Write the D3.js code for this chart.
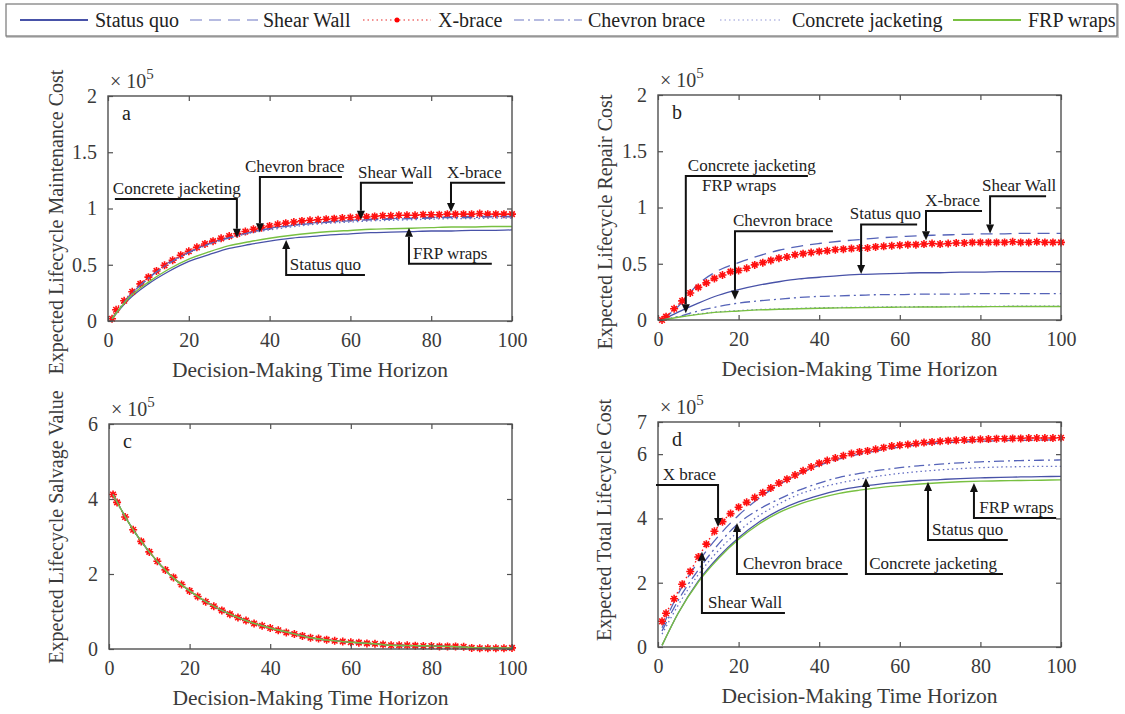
<!DOCTYPE html>
<html>
<head>
<meta charset="utf-8">
<script src="https://cdn.jsdelivr.net/npm/d3@7"></script>
<style>
  body { margin: 0; background: #fff; }
  svg { display: block; }
  text { font-family: "Liberation Serif", "Times New Roman", serif; }
</style>
</head>
<body>
<div id="chart"></div>
<script>
// ---- data (values in units of 10^5) ----
const seriesNames = ['Status quo', 'Shear Wall', 'X-brace', 'Chevron brace', 'Concrete jacketing', 'FRP wraps'];

// X-brace is plotted with markers on a finer grid
const yearsFine = [1, 2, 4, 6, 8, 10, 12, 14, 16, 18, 20, 22, 24, 26, 28, 30, 32, 34, 36, 38, 40,
  42, 44, 46, 48, 50, 52, 54, 56, 58, 60, 62, 64, 66, 68, 70, 72, 74, 76, 78, 80,
  82, 84, 86, 88, 90, 92, 94, 96, 98, 100];
const yearsCoarse = [1, 5, 10, 15, 20, 25, 30, 35, 40, 45, 50, 55, 60, 65, 70, 75, 80, 85, 90, 95, 100];

const xTicks = [0, 20, 40, 60, 80, 100];

// (a) maintenance
const maintXbrace = [0.02, 0.10, 0.18, 0.26, 0.33, 0.39, 0.445, 0.495, 0.54, 0.585, 0.62,
  0.655, 0.685, 0.71, 0.735, 0.755, 0.775, 0.795, 0.815, 0.83, 0.845,
  0.86, 0.87, 0.88, 0.89, 0.895, 0.90, 0.905, 0.91, 0.915, 0.92,
  0.925, 0.925, 0.93, 0.935, 0.935, 0.94, 0.94, 0.94, 0.945, 0.945,
  0.945, 0.95, 0.95, 0.95, 0.95, 0.955, 0.95, 0.95, 0.95, 0.95];
const maintStatusQuo = [0.02, 0.187, 0.33, 0.44, 0.53, 0.59, 0.645, 0.68, 0.71, 0.735, 0.75, 0.765, 0.775, 0.785, 0.79, 0.795, 0.80, 0.80, 0.805, 0.805, 0.81];
const maintShearWall = [0.02, 0.21, 0.38, 0.52, 0.61, 0.69, 0.745, 0.79, 0.825, 0.85, 0.87, 0.885, 0.895, 0.905, 0.91, 0.915, 0.92, 0.925, 0.93, 0.93, 0.93];
const maintChevron = [0.02, 0.21, 0.38, 0.51, 0.61, 0.685, 0.74, 0.785, 0.82, 0.845, 0.865, 0.88, 0.89, 0.90, 0.905, 0.91, 0.915, 0.92, 0.92, 0.925, 0.925];
const maintConcrete = [0.02, 0.21, 0.375, 0.51, 0.605, 0.68, 0.735, 0.78, 0.81, 0.835, 0.855, 0.87, 0.88, 0.89, 0.895, 0.90, 0.905, 0.91, 0.91, 0.915, 0.915];
const maintFrp = [0.02, 0.20, 0.345, 0.46, 0.55, 0.615, 0.67, 0.705, 0.735, 0.76, 0.78, 0.795, 0.805, 0.815, 0.82, 0.825, 0.83, 0.835, 0.835, 0.84, 0.84];

// (b) repair
const repairXbrace = [0.0, 0.03, 0.10, 0.17, 0.24, 0.29, 0.33, 0.37, 0.40, 0.43, 0.44,
  0.46, 0.49, 0.51, 0.53, 0.55, 0.56, 0.58, 0.59, 0.60, 0.61,
  0.615, 0.625, 0.63, 0.635, 0.64, 0.64, 0.65, 0.655, 0.66, 0.665,
  0.67, 0.67, 0.675, 0.68, 0.675, 0.68, 0.685, 0.685, 0.69, 0.69,
  0.69, 0.69, 0.69, 0.695, 0.69, 0.69, 0.695, 0.69, 0.69, 0.69];
const repairStatusQuo = [0.0, 0.07, 0.15, 0.22, 0.27, 0.31, 0.34, 0.365, 0.38, 0.395, 0.405, 0.41, 0.415, 0.42, 0.42, 0.425, 0.425, 0.43, 0.43, 0.43, 0.43];
const repairShearWall = [0.0, 0.12, 0.32, 0.44, 0.51, 0.57, 0.62, 0.655, 0.68, 0.70, 0.715, 0.73, 0.74, 0.75, 0.755, 0.76, 0.765, 0.765, 0.77, 0.77, 0.77];
const repairChevron = [0.0, 0.03, 0.08, 0.12, 0.15, 0.17, 0.185, 0.20, 0.21, 0.215, 0.22, 0.225, 0.225, 0.23, 0.23, 0.23, 0.235, 0.235, 0.235, 0.235, 0.235];
const repairConcrete = [0.0, 0.027, 0.053, 0.073, 0.083, 0.093, 0.098, 0.103, 0.108, 0.111, 0.113, 0.115, 0.117, 0.118, 0.119, 0.12, 0.121, 0.122, 0.123, 0.123, 0.123];
const repairFrp = [0.0, 0.025, 0.05, 0.07, 0.08, 0.09, 0.095, 0.10, 0.105, 0.108, 0.11, 0.112, 0.114, 0.115, 0.116, 0.117, 0.118, 0.119, 0.12, 0.12, 0.12];

// (c) salvage (all alternatives nearly identical)
const salvageXbrace = [4.12, 3.91, 3.52, 3.18, 2.87, 2.59, 2.34, 2.11, 1.91, 1.72, 1.55,
  1.40, 1.26, 1.14, 1.03, 0.93, 0.84, 0.76, 0.68, 0.62, 0.56,
  0.50, 0.44, 0.40, 0.35, 0.30, 0.28, 0.25, 0.22, 0.20, 0.18,
  0.17, 0.15, 0.14, 0.12, 0.10, 0.10, 0.10, 0.09, 0.08, 0.08,
  0.07, 0.07, 0.07, 0.06, 0.03, 0.02, 0.02, 0.02, 0.02, 0.03];
const salvageOthers = [4.12, 3.35, 2.59, 1.99, 1.55, 1.20, 0.93, 0.72, 0.56, 0.43, 0.30, 0.23, 0.18, 0.145, 0.10, 0.09, 0.08, 0.065, 0.04, 0.025, 0.025];

// (d) total
const totalXbrace = [0.80, 1.05, 1.50, 1.95, 2.35, 2.80, 3.20, 3.60, 3.90, 4.15, 4.35,
  4.50, 4.65, 4.80, 4.95, 5.10, 5.22, 5.35, 5.48, 5.60, 5.72,
  5.80, 5.88, 5.95, 6.02, 6.07, 6.10, 6.15, 6.20, 6.25, 6.28,
  6.30, 6.33, 6.36, 6.38, 6.40, 6.42, 6.43, 6.44, 6.45, 6.46,
  6.47, 6.48, 6.48, 6.49, 6.49, 6.50, 6.50, 6.50, 6.50, 6.51];
const totalStatusQuo = [0.05, 1.05, 2.05, 2.80, 3.40, 3.88, 4.25, 4.52, 4.72, 4.88, 4.99, 5.07, 5.13, 5.18, 5.21, 5.24, 5.26, 5.28, 5.29, 5.30, 5.31];
const totalShearWall = [0.60, 1.65, 2.65, 3.45, 4.10, 4.62, 5.05, 5.38, 5.65, 5.85, 6.00, 6.12, 6.22, 6.30, 6.35, 6.38, 6.40, 6.42, 6.43, 6.44, 6.45];
const totalChevron = [0.50, 1.45, 2.40, 3.20, 3.85, 4.28, 4.60, 4.88, 5.10, 5.28, 5.40, 5.50, 5.58, 5.64, 5.69, 5.73, 5.76, 5.78, 5.80, 5.81, 5.82];
const totalConcrete = [0.40, 1.30, 2.25, 3.00, 3.60, 4.08, 4.45, 4.75, 4.95, 5.10, 5.22, 5.32, 5.40, 5.46, 5.51, 5.55, 5.58, 5.60, 5.61, 5.62, 5.62];
const totalFrp = [0.05, 1.05, 2.02, 2.75, 3.35, 3.82, 4.18, 4.44, 4.63, 4.78, 4.88, 4.96, 5.02, 5.07, 5.11, 5.14, 5.16, 5.17, 5.18, 5.19, 5.20];

// ---- styles ----
const styles = {
  'Status quo':         { color: '#4852a8', legend: '#4852a8', dash: null, width: 1.3 },
  'Shear Wall':         { color: '#5563b8', legend: '#9fa5d8', dash: '12,7', width: 1.3 },
  'X-brace':            { color: '#ff1a1a', legend: '#f07070', dash: '1.5,3', width: 1.4, marker: true },
  'Chevron brace':      { color: '#5563b8', legend: '#9fa5d8', dash: '10,4,2,4', width: 1.3 },
  'Concrete jacketing': { color: '#6670c4', legend: '#b7bbe4', dash: '1.5,3', width: 1.3 },
  'FRP wraps':          { color: '#78c041', legend: '#78c041', dash: null, width: 1.4 }
};

const panels = [
  { letter: 'a', x0: 108, x1: 512, y0: 321, y1: 96, yMax: 2, yTicks: [0, 0.5, 1, 1.5, 2],
    yLabel: 'Expected Lifecycle Maintenance Cost', yLabelX: 63, yLabelY: 222,
    data: { 'Status quo': maintStatusQuo, 'Shear Wall': maintShearWall, 'X-brace': maintXbrace,
            'Chevron brace': maintChevron, 'Concrete jacketing': maintConcrete, 'FRP wraps': maintFrp },
    notes: [
      { label: 'Concrete jacketing', tipX: 31.9, tipY: 0.74, elbowY: 1.085, endX: 1.7, textX: 1.2 },
      { label: 'Chevron brace', tipX: 37.6, tipY: 0.79, elbowY: 1.28, endX: 57.9, textX: 33.9 },
      { label: 'Shear Wall', tipX: 62.6, tipY: 0.90, elbowY: 1.23, endX: 75.5, textX: 61.9 },
      { label: 'X-brace', tipX: 84.9, tipY: 0.97, elbowY: 1.23, endX: 98.3, textX: 83.9 },
      { label: 'Status quo', tipX: 44.1, tipY: 0.72, elbowY: 0.41, endX: 63.6, textX: 45 },
      { label: 'FRP wraps', tipX: 74.5, tipY: 0.83, elbowY: 0.51, endX: 95, textX: 75.5 }
    ] },
  { letter: 'b', x0: 658, x1: 1061, y0: 320, y1: 95, yMax: 2, yTicks: [0, 0.5, 1, 1.5, 2],
    yLabel: 'Expected Lifecycle Repair Cost', yLabelX: 612, yLabelY: 222,
    data: { 'Status quo': repairStatusQuo, 'Shear Wall': repairShearWall, 'X-brace': repairXbrace,
            'Chevron brace': repairChevron, 'Concrete jacketing': repairConcrete, 'FRP wraps': repairFrp },
    notes: [
      { label: 'Concrete jacketing', tipX: 6.9, tipY: 0.06, elbowY: 1.28, endX: 37.2, textX: 7.4,
        sub: 'FRP wraps', subX: 10.9 },
      { label: 'Chevron brace', tipX: 19.1, tipY: 0.18, elbowY: 0.79, endX: 43.4, textX: 18.6 },
      { label: 'Status quo', tipX: 50.4, tipY: 0.41, elbowY: 0.85, endX: 64.3, textX: 47.6 },
      { label: 'X-brace', tipX: 66.5, tipY: 0.71, elbowY: 0.97, endX: 80.4, textX: 66.3 },
      { label: 'Shear Wall', tipX: 82.4, tipY: 0.77, elbowY: 1.10, endX: 96.3, textX: 80.4 }
    ] },
  { letter: 'c', x0: 109, x1: 512, y0: 649, y1: 424, yMax: 6, yTicks: [0, 2, 4, 6],
    yLabel: 'Expected Lifecycle Salvage Value', yLabelX: 63, yLabelY: 527,
    data: { 'Status quo': salvageOthers, 'Shear Wall': salvageOthers, 'X-brace': salvageXbrace,
            'Chevron brace': salvageOthers, 'Concrete jacketing': salvageOthers, 'FRP wraps': salvageOthers },
    notes: [] },
  { letter: 'd', x0: 658, x1: 1061, y0: 647, y1: 422, yMax: 7, yTicks: [0, 2, 4, 6, 7],
    yLabel: 'Expected Total Lifecycle Cost', yLabelX: 611, yLabelY: 520,
    data: { 'Status quo': totalStatusQuo, 'Shear Wall': totalShearWall, 'X-brace': totalXbrace,
            'Chevron brace': totalChevron, 'Concrete jacketing': totalConcrete, 'FRP wraps': totalFrp },
    notes: [
      { label: 'X brace', tipX: 14.9, tipY: 3.73, elbowY: 5.04, endX: -0.5, textX: 1.2 },
      { label: 'Shear Wall', tipX: 10.9, tipY: 2.96, elbowY: 1.06, endX: 31.5, textX: 12.4 },
      { label: 'Chevron brace', tipX: 19.6, tipY: 3.86, elbowY: 2.27, endX: 47.1, textX: 21.1 },
      { label: 'Concrete jacketing', tipX: 51.6, tipY: 5.26, elbowY: 2.27, endX: 85.6, textX: 52.4 },
      { label: 'Status quo', tipX: 67, tipY: 5.13, elbowY: 3.33, endX: 86.8, textX: 68 },
      { label: 'FRP wraps', tipX: 78.4, tipY: 5.10, elbowY: 4.01, endX: 98.8, textX: 79.7 }
    ] }
];

let width = 1125;
let height = 714;
let axisColor = '#505050';
let textColor = '#3a3a3a';

let svg = d3.select('#chart').append('svg')
  .attr('width', width)
  .attr('height', height);

// ---- legend ----
let legendSampleX = [20, 190, 363, 514, 720, 953];
let legendTextX = [95, 263, 438, 588, 792, 1028];
let legendG = svg.append('g').classed('legend', true);
legendG.append('rect')
  .attr('x', 7).attr('y', 5).attr('width', 1111).attr('height', 32)
  .attr('fill', 'none').attr('stroke', '#c8c8c8').attr('stroke-width', 2);
legendG.append('rect')
  .attr('x', 6).attr('y', 4).attr('width', 1111).attr('height', 32)
  .attr('fill', '#fff').attr('stroke', '#777').attr('stroke-width', 1.2);

seriesNames.forEach(function (name, i) {
  let s = styles[name];
  let len = (name === 'Concrete jacketing') ? 62 : 68;
  legendG.append('line')
    .attr('x1', legendSampleX[i]).attr('x2', legendSampleX[i] + len)
    .attr('y1', 20).attr('y2', 20)
    .attr('stroke', s.legend)
    .attr('stroke-width', s.dash ? 1.6 : 2.2)
    .attr('stroke-dasharray', s.dash);
  if (s.marker) {
    legendG.append('circle')
      .attr('cx', legendSampleX[i] + len / 2).attr('cy', 20).attr('r', 2.5)
      .attr('fill', '#ff0000');
  }
  legendG.append('text')
    .attr('x', legendTextX[i]).attr('y', 27)
    .attr('font-size', 20)
    .attr('fill', '#222')
    .text(name);
});

// ---- panels ----
panels.forEach(drawPanel);

function drawPanel(p) {
  let xScale = d3.scaleLinear().domain([0, 100]).range([p.x0, p.x1]);
  let yScale = d3.scaleLinear().domain([0, p.yMax]).range([p.y0, p.y1]);
  let g = svg.append('g').classed('panel-' + p.letter, true);

  // series lines
  let lineG = g.append('g').classed('lines', true);
  seriesNames.forEach(function (name) {
    let s = styles[name];
    let vals = p.data[name];
    let xs = (vals.length === yearsFine.length) ? yearsFine : yearsCoarse;
    let pts = vals.map(function (v, i) { return [xs[i], v]; });
    let line = d3.line()
      .x(function (d) { return xScale(d[0]); })
      .y(function (d) { return yScale(d[1]); })
      .curve(d3.curveMonotoneX);
    lineG.append('path')
      .datum(pts)
      .attr('d', line)
      .attr('fill', 'none')
      .attr('stroke', s.color)
      .attr('stroke-width', s.width)
      .attr('stroke-dasharray', s.dash);
    if (s.marker) {
      lineG.selectAll('.mk-' + p.letter)
        .data(pts)
        .enter()
        .append('path')
        .classed('mk-' + p.letter, true)
        .attr('transform', function (d) { return 'translate(' + xScale(d[0]) + ',' + yScale(d[1]) + ')'; })
        .attr('d', 'M-4,0H4M0,-4V4M-2.8,-2.8L2.8,2.8M-2.8,2.8L2.8,-2.8')
        .attr('stroke', '#ff1010')
        .attr('stroke-width', 1.6)
        .attr('fill', 'none');
    }
  });

  // frame + inward ticks on all sides
  let axisG = g.append('g').classed('axis-g', true);
  axisG.append('g')
    .attr('transform', 'translate(0,' + p.y0 + ')')
    .call(d3.axisBottom(xScale).tickValues(xTicks).tickSizeInner(-5).tickSizeOuter(0).tickPadding(12));
  axisG.append('g')
    .attr('transform', 'translate(0,' + p.y1 + ')')
    .call(d3.axisTop(xScale).tickValues(xTicks).tickSizeInner(-5).tickSizeOuter(0).tickFormat(''));
  axisG.append('g')
    .attr('transform', 'translate(' + p.x0 + ',0)')
    .call(d3.axisLeft(yScale).tickValues(p.yTicks).tickSizeInner(-5).tickSizeOuter(0).tickPadding(11).tickFormat(d3.format('~g')));
  axisG.append('g')
    .attr('transform', 'translate(' + p.x1 + ',0)')
    .call(d3.axisRight(yScale).tickValues(p.yTicks).tickSizeInner(-5).tickSizeOuter(0).tickFormat(''));
  axisG.selectAll('.domain').attr('stroke', 'none');
  axisG.selectAll('.tick line').attr('stroke', axisColor).attr('stroke-width', 1.2);
  axisG.selectAll('.tick text')
    .attr('font-family', '"Liberation Serif", serif')
    .attr('font-size', 20)
    .attr('fill', textColor);
  axisG.append('rect')
    .attr('x', p.x0).attr('y', p.y1)
    .attr('width', p.x1 - p.x0).attr('height', p.y0 - p.y1)
    .attr('fill', 'none').attr('stroke', axisColor).attr('stroke-width', 1.4);

  // exponent label
  let ex = g.append('text')
    .attr('x', p.x0 + 2).attr('y', p.y1 - 8)
    .attr('font-size', 20).attr('fill', textColor);
  ex.append('tspan').text('\u00d7 10');
  ex.append('tspan').attr('font-size', 15).attr('dy', -9).text('5');

  // panel letter
  g.append('text')
    .attr('x', p.x0 + 14).attr('y', p.y1 + 24)
    .attr('font-size', 20).attr('fill', '#222')
    .text(p.letter);

  // axis titles
  g.append('text')
    .attr('x', (p.x0 + p.x1) / 2).attr('y', p.y0 + 56)
    .attr('text-anchor', 'middle')
    .attr('font-size', 21.5).attr('fill', textColor)
    .text('Decision-Making Time Horizon');
  g.append('text')
    .attr('transform', 'translate(' + p.yLabelX + ',' + p.yLabelY + ') rotate(-90)')
    .attr('text-anchor', 'middle')
    .attr('font-size', 20).attr('fill', textColor)
    .text(p.yLabel);

  // annotations
  let noteG = g.append('g').classed('notes', true);
  p.notes.forEach(function (n) {
    let tx = xScale(n.tipX);
    let ty = yScale(n.tipY);
    let ey = yScale(n.elbowY);
    let dir = ty > ey ? 1 : -1; // 1 = arrow pointing down
    let headLen = 9;
    noteG.append('path')
      .attr('d', 'M' + xScale(n.endX) + ',' + ey + 'H' + tx + 'V' + (ty - dir * headLen))
      .attr('fill', 'none')
      .attr('stroke', '#111')
      .attr('stroke-width', 2);
    noteG.append('path')
      .attr('d', 'M' + tx + ',' + ty + 'L' + (tx - 4) + ',' + (ty - dir * headLen) + 'L' + (tx + 4) + ',' + (ty - dir * headLen) + 'Z')
      .attr('fill', '#111');
    noteG.append('text')
      .attr('x', xScale(n.textX)).attr('y', ey - 5)
      .attr('font-size', 17).attr('fill', '#222')
      .text(n.label);
    if (n.sub) {
      noteG.append('text')
        .attr('x', xScale(n.subX)).attr('y', ey + 15)
        .attr('font-size', 17).attr('fill', '#222')
        .text(n.sub);
    }
  });
}
</script>
</body>
</html>
